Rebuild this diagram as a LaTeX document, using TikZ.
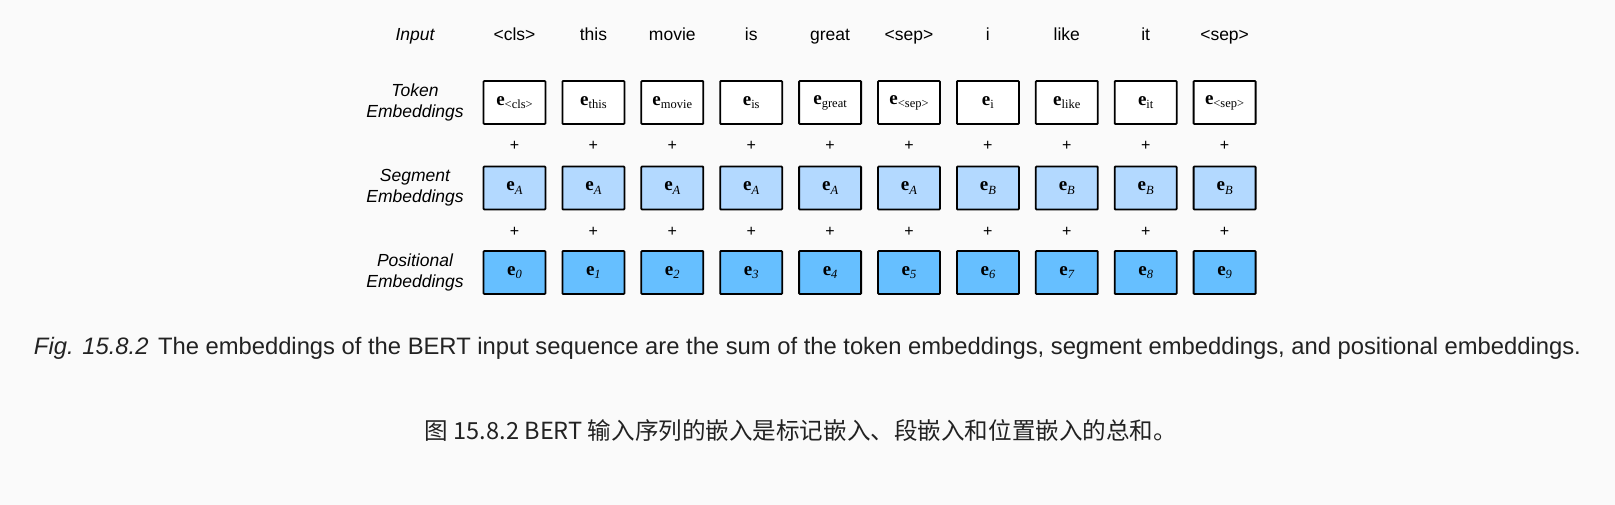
\documentclass[tikz,border=0pt]{standalone}
\usepackage{fontspec}
\setmainfont{Liberation Sans}
\newfontfamily\tnr{Liberation Serif}
\newfontfamily\cjk{Noto Sans CJK SC}
\definecolor{bgc}{HTML}{FAFAFA}
\definecolor{segc}{HTML}{B3D9FF}
\definecolor{posc}{HTML}{66BFFF}
\definecolor{capc}{HTML}{222222}
\newcommand{\emb}[2]{{\tnr\fontsize{19}{19}\selectfont\bfseries e}\raisebox{-0.6ex}{\tnr\fontsize{12.5}{12.5}\selectfont #1#2}}
\tikzset{
  x=1pt,y=-1pt,
  ebox/.style={draw=black,line width=1.8pt,minimum width=62pt,minimum height=43pt,inner sep=0pt,rounded corners=0.8pt},
  tokbox/.style={ebox,fill=white},
  segbox/.style={ebox,fill=segc},
  posbox/.style={ebox,fill=posc},
  rowlab/.style={font=\fontsize{17.5}{21}\selectfont\itshape,align=center},
  word/.style={font=\fontsize{17.5}{19}\selectfont,anchor=base},
  plus/.style={font=\fontsize{16}{16}\selectfont}
}
\begin{document}
\begin{tikzpicture}
\fill[bgc] (0,0) rectangle (1615,505);
\useasboundingbox (0,0) rectangle (1615,505);
% row labels
\node[word,font=\fontsize{17.5}{19}\selectfont\itshape] (lin) at (415,41) {Input};
\node[rowlab] (ltok) at (415,102.5) {Token\\Embeddings};
\node[rowlab] (lseg) at (415,188) {Segment\\Embeddings};
\node[rowlab] (lpos) at (415,272.5) {Positional\\Embeddings};
% columns
\foreach \i/\w/\t/\s/\p in {0/{<cls>}/{<cls>}/A/0, 1/this/this/A/1, 2/movie/movie/A/2, 3/is/is/A/3, 4/great/great/A/4, 5/{<sep>}/{<sep>}/A/5, 6/i/i/B/6, 7/like/like/B/7, 8/it/it/B/8, 9/{<sep>}/{<sep>}/B/9}{
  \pgfmathsetmacro{\cx}{514.5+78.9*\i}
  \node[word] (w\i) at (\cx,41) {\w};
  \node[tokbox] (t\i) at (\cx,102.5) {\emb{}{\t}};
  \node[plus] (pa\i) at (\cx,146) {+};
  \node[segbox] (s\i) at (\cx,188) {\emb{\itshape}{\s}};
  \node[plus] (pb\i) at (\cx,232) {+};
  \node[posbox] (p\i) at (\cx,272.5) {\emb{\itshape}{\p}};
}
% captions
\node[text=capc,inner sep=0pt] (cap) at (807.5,348) {\resizebox{1547pt}{!}{\fontsize{22}{24}\selectfont\textit{Fig. 15.8.2}\hspace{0.4em}The embeddings of the BERT input sequence are the sum of the token embeddings, segment embeddings, and positional embeddings.}};
\node[text=capc,inner sep=0pt] (capzh) at (801,430.5) {\resizebox{752pt}{!}{\fontsize{22}{24}\selectfont\cjk 图 15.8.2 BERT 输入序列的嵌入是标记嵌入、段嵌入和位置嵌入的总和。}};
\end{tikzpicture}
\end{document}
